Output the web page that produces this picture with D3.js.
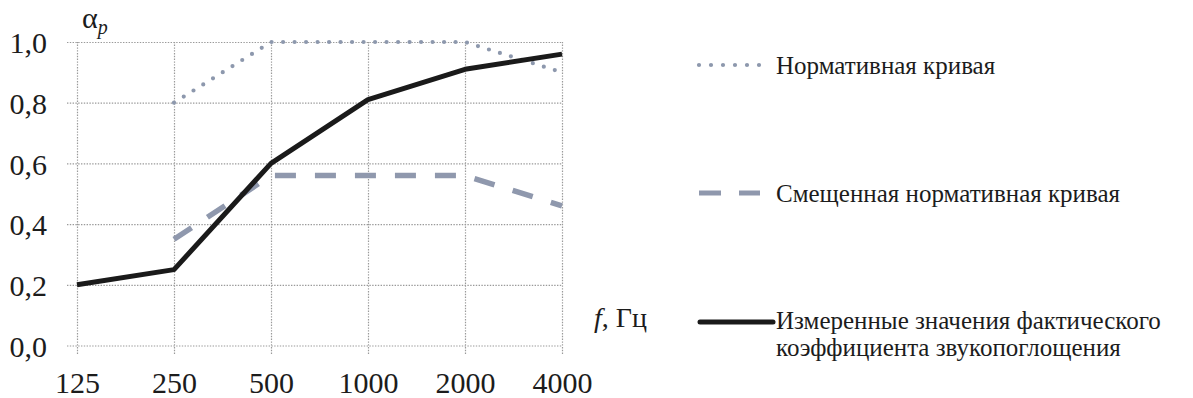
<!DOCTYPE html>
<html><head><meta charset="utf-8">
<script src="https://cdn.jsdelivr.net/npm/d3@7"></script>
</head>
<body style="margin:0;background:#fff">
<svg id="c" width="1193" height="398" style="display:block"></svg>
<script>
// ---- data ----
const frequencies = ["125","250","500","1000","2000","4000"];
const normativeFreq = ["250","500","1000","2000","4000"];
const normativeValues = [0.80, 1.00, 1.00, 1.00, 0.90];
const shiftedFreq = ["250","500","1000","2000","4000"];
const shiftedValues = [0.35, 0.56, 0.56, 0.56, 0.46];
const measuredFreq = ["125","250","500","1000","2000","4000"];
const measuredValues = [0.20, 0.25, 0.60, 0.81, 0.91, 0.96];
const yTicks = [0, 0.2, 0.4, 0.6, 0.8, 1.0];
const yTickLabels = ["0,0","0,2","0,4","0,6","0,8","1,0"];
const legendLabels = ["Нормативная кривая","Смещенная нормативная кривая",
  ["Измеренные значения фактического","коэффициента звукопоглощения"]];
const xTitle = "Гц";

const INK = "#1c1c1c";
const svg = d3.select("#c");
const X0 = 77, X1 = 562, Y0 = 345.5, Y1 = 42;
const x = d3.scalePoint().domain(frequencies).range([X0, X1]);
const y = d3.scaleLinear().domain([0, 1]).range([Y0, Y1]);

function serif(sel, size) {
  sel.attr("font-family", "Liberation Serif").attr("font-size", size)
     .style("font-family", '"Liberation Serif", Tinos, FreeSerif, "Nimbus Roman"', "important")
     .style("font-size", size + "px", "important")
     .attr("fill", INK);
  return sel;
}

const gridColor = "#9a9a9a";
// horizontal grid + y labels
const ya = svg.append("g").attr("transform", `translate(${X0-10},0)`)
  .call(d3.axisLeft(y).tickValues(yTicks).tickSize(-(X1 - X0 + 10)).tickPadding(20)
    .tickFormat((d,i) => yTickLabels[i]));
ya.attr("font-family", "Liberation Serif");
ya.select(".domain").remove();
ya.selectAll(".tick line").attr("stroke", gridColor).attr("stroke-width", 1.2).attr("stroke-dasharray", "1.4 1.4");
serif(ya.selectAll(".tick text"), 30).attr("dy", "0.36em");

// vertical grid + x labels
const XB = 354;
const xa = svg.append("g").attr("transform", `translate(0,${XB})`)
  .call(d3.axisBottom(x).tickSize(-(XB - Y1)).tickPadding(18));
xa.attr("font-family", "Liberation Serif");
xa.select(".domain").remove();
xa.selectAll(".tick line").attr("stroke", gridColor).attr("stroke-width", 1.2).attr("stroke-dasharray", "1.4 1.4");
serif(xa.selectAll(".tick text"), 30).attr("dy", "0.71em");

const line = d3.line().x(d => x(d[0])).y(d => y(d[1]));

// shifted normative curve (dashed)
svg.append("path").datum(shiftedFreq.map((f,i) => [f, shiftedValues[i]]))
  .attr("d", line).attr("fill", "none").attr("stroke", "#8f98ad")
  .attr("stroke-width", 5.5).attr("stroke-dasharray", "21 19");

// normative curve (dotted)
svg.append("path").datum(normativeFreq.map((f,i) => [f, normativeValues[i]]))
  .attr("d", line).attr("fill", "none").attr("stroke", "#8d98ad")
  .attr("stroke-width", 4.2).attr("stroke-linecap", "round").attr("stroke-dasharray", "0 11.5");

// measured (solid)
svg.append("path").datum(measuredFreq.map((f,i) => [f, measuredValues[i]]))
  .attr("d", line).attr("fill", "none").attr("stroke", "#1a1a1a")
  .attr("stroke-width", 5).attr("stroke-linejoin", "round");

function txt(xp, yp, size) {
  return serif(svg.append("text").attr("x", xp).attr("y", yp), size);
}
// y axis title alpha_p
const at = txt(82, 28, 30);
at.append("tspan").text("α");
at.append("tspan").style("font-size", "20px", "important").style("font-style", "italic", "important").attr("dy", 6).text("p");

// x axis title
const xt = txt(594, 327, 28);
xt.append("tspan").style("font-style", "italic", "important").text("f");
xt.append("tspan").text(", " + xTitle);

// legend
const LX = 776, LF = 25;
svg.append("line").attr("x1", 699).attr("x2", 760).attr("y1", 65).attr("y2", 65)
  .attr("stroke", "#8d98ad").attr("stroke-width", 4.2).attr("stroke-linecap", "round").attr("stroke-dasharray", "0 12");
txt(LX, 74, LF).text(legendLabels[0]);

svg.append("line").attr("x1", 699).attr("x2", 760).attr("y1", 193).attr("y2", 193)
  .attr("stroke", "#8f98ad").attr("stroke-width", 5).attr("stroke-dasharray", "22 18");
txt(LX, 202, LF).text(legendLabels[1]);

svg.append("line").attr("x1", 700).attr("x2", 773).attr("y1", 322).attr("y2", 322)
  .attr("stroke", "#1a1a1a").attr("stroke-width", 5).attr("stroke-linecap", "round");
txt(LX, 329, LF).text(legendLabels[2][0]);
txt(LX, 356, LF).text(legendLabels[2][1]);
</script></body></html>
